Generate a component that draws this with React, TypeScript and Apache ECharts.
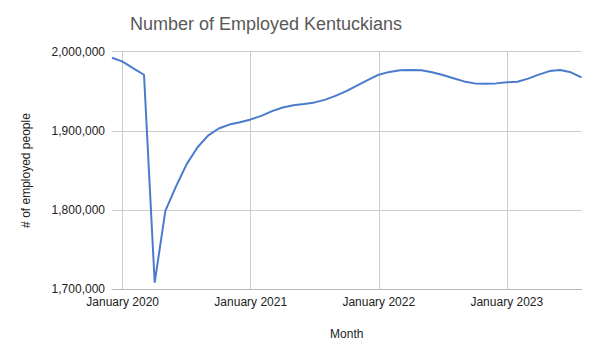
import React, { useEffect, useRef } from "react";
import * as echarts from "echarts";

const monthNames = ["January","February","March","April","May","June","July","August","September","October","November","December"];
// Dec 2019 .. Aug 2023
const months: string[] = ["December 2019"];
for (const y of [2020, 2021, 2022, 2023]) {
  for (let m = 0; m < 12; m++) {
    if (y === 2023 && m > 7) break;
    months.push(`${monthNames[m]} ${y}`);
  }
}

const employed2019 = [1992400];
const employed2020 = [1987400, 1979000, 1970900, 1708300, 1799000, 1830000, 1858000, 1879000, 1894000, 1903000, 1908000, 1911000];
const employed2021 = [1914500, 1919000, 1925000, 1929500, 1932500, 1934000, 1936000, 1939500, 1944500, 1950500, 1957500, 1964500];
const employed2022 = [1971000, 1974500, 1976500, 1977000, 1976500, 1974000, 1970500, 1966500, 1962500, 1960000, 1959500, 1960000];
const employed2023 = [1961500, 1962000, 1966000, 1971000, 1975500, 1977000, 1974000, 1967500];

const employed = [...employed2019, ...employed2020, ...employed2021, ...employed2022, ...employed2023];

const yTicks = { min: 1700000, max: 2000000, interval: 100000 };

export default function App() {
  const ref = useRef<HTMLDivElement>(null);
  useEffect(() => {
    if (!ref.current) return;
    const chart = echarts.init(ref.current, null, { renderer: "svg" });
    const font = "Liberation Sans, Arial, sans-serif";
    const isJan = (_i: number, v: string) => v.startsWith("January");
    chart.setOption({
      animation: false,
      backgroundColor: "#ffffff",
      title: {
        text: "Number of Employed Kentuckians",
        left: 261,
        top: 10,
        textAlign: "center",
        textStyle: { fontFamily: font, fontSize: 18, fontWeight: "normal", color: "#595959" },
      },
      grid: { left: 112, right: 18.5, top: 51.7, bottom: 62.7, containLabel: false },
      xAxis: {
        type: "category",
        data: months,
        boundaryGap: false,
        name: "Month",
        nameLocation: "middle",
        nameGap: 39,
        nameTextStyle: { fontFamily: font, fontSize: 12, color: "#222222" },
        axisLine: { show: true, lineStyle: { color: "#b7b7b7", width: 1 } },
        axisTick: { show: false },
        axisLabel: {
          interval: isJan,
          fontFamily: font,
          fontSize: 12,
          color: "#222222",
          margin: 7,
        },
        splitLine: { show: true, interval: isJan, lineStyle: { color: "#cccccc", width: 1 } },
      },
      yAxis: {
        type: "value",
        min: yTicks.min,
        max: yTicks.max,
        interval: yTicks.interval,
        name: "# of employed people",
        nameLocation: "middle",
        nameGap: 80,
        nameTextStyle: { fontFamily: font, fontSize: 12, color: "#222222" },
        axisLine: { show: false },
        axisTick: { show: false },
        axisLabel: {
          fontFamily: font,
          fontSize: 12,
          color: "#222222",
          margin: 7,
          formatter: (v: number) => v.toLocaleString("en-US"),
        },
        splitLine: { show: true, lineStyle: { color: "#cccccc", width: 1 } },
      },
      series: [
        {
          type: "line",
          data: employed,
          showSymbol: false,
          smooth: false,
          lineStyle: { color: "#4a7bcc", width: 2 },
          itemStyle: { color: "#4a7bcc" },
        },
      ],
    });
    return () => chart.dispose();
  }, []);
  return <div ref={ref} style={{ width: 600, height: 352, position: "absolute", left: 0, top: 0 }} />;
}
